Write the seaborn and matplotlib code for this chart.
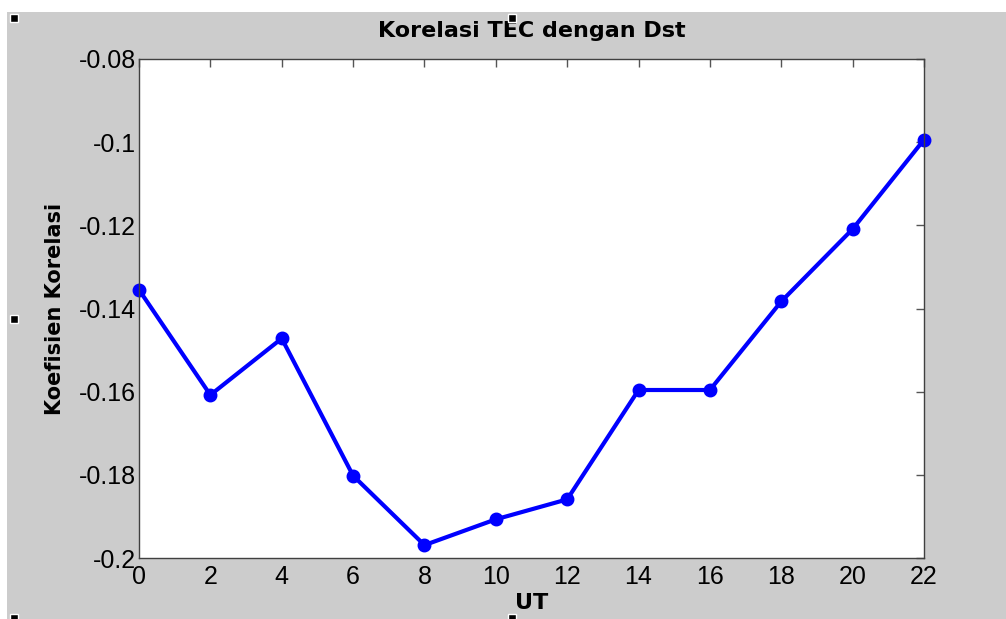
import matplotlib
matplotlib.use('Agg')
import matplotlib.pyplot as plt
import seaborn as sns
import pandas as pd
from matplotlib.patches import Rectangle
from matplotlib.ticker import FuncFormatter

# Data
ut = [0, 2, 4, 6, 8, 10, 12, 14, 16, 18, 20, 22]
korelasi = [-0.1355, -0.1608, -0.1472, -0.1802, -0.1969, -0.1907,
            -0.1859, -0.1596, -0.1596, -0.1383, -0.1209, -0.0994]
y_ticks = [-0.2, -0.18, -0.16, -0.14, -0.12, -0.1, -0.08]
x_ticks = ut

sns.set_style("white")
plt.rcParams['font.family'] = ['Liberation Sans', 'DejaVu Sans']
plt.rcParams['text.color'] = 'black'
plt.rcParams['axes.labelcolor'] = 'black'
plt.rcParams['xtick.color'] = 'black'
plt.rcParams['ytick.color'] = 'black'

df = pd.DataFrame({'UT': ut, 'Korelasi': korelasi})

fig = plt.figure(figsize=(10.06, 6.19), dpi=100, facecolor='white')
# grey figure panel (MATLAB-like)
fig.patches.append(Rectangle((7 / 1006, 0), 1 - 7 / 1006, (619 - 12) / 619,
                             transform=fig.transFigure, facecolor='#cccccc',
                             edgecolor='none', zorder=-10))
# selection handles
for hx, hy in [(14, 18), (512, 18), (14, 319), (512, 618), (14, 618)]:
    fig.patches.append(Rectangle(((hx - 4) / 1006, (619 - hy - 4) / 619), 8 / 1006, 8 / 619,
                                 transform=fig.transFigure, facecolor='black',
                                 edgecolor='white', linewidth=1, zorder=10))

ax = fig.add_axes([139 / 1006, (619 - 558) / 619, (924 - 139) / 1006, (558 - 59) / 619])
ax.set_facecolor('white')

sns.lineplot(data=df, x='UT', y='Korelasi', ax=ax, color='#0000ff', linewidth=3,
             marker='o', markersize=8, markerfacecolor='#0000ff',
             markeredgecolor='#0000ff', markeredgewidth=2, clip_on=False)

ax.set_xlim(0, 22)
ax.set_ylim(-0.2, -0.08)
ax.set_xticks(x_ticks)
ax.set_yticks(y_ticks)
ax.yaxis.set_major_formatter(FuncFormatter(lambda v, p: '%g' % round(v, 4)))
ax.tick_params(direction='in', length=6, width=1, color='#555555',
               labelsize=18, labelcolor='black', top=True, right=True, pad=2)
ax.tick_params(axis='x', pad=5)
for s in ax.spines.values():
    s.set_color('#404040')
    s.set_linewidth(1)
    s.set_visible(True)

ax.set_title('Korelasi TEC dengan Dst', fontsize=16, fontweight='bold',
             family='DejaVu Sans', color='black', pad=16)
ax.set_xlabel('UT', fontsize=16, fontweight='bold', family='DejaVu Sans',
              color='black', labelpad=3)
ax.set_ylabel('Koefisien Korelasi', fontsize=15, fontweight='bold',
              family='DejaVu Sans', color='black', labelpad=10)

fig.savefig('out.png', dpi=100, facecolor=fig.get_facecolor())
